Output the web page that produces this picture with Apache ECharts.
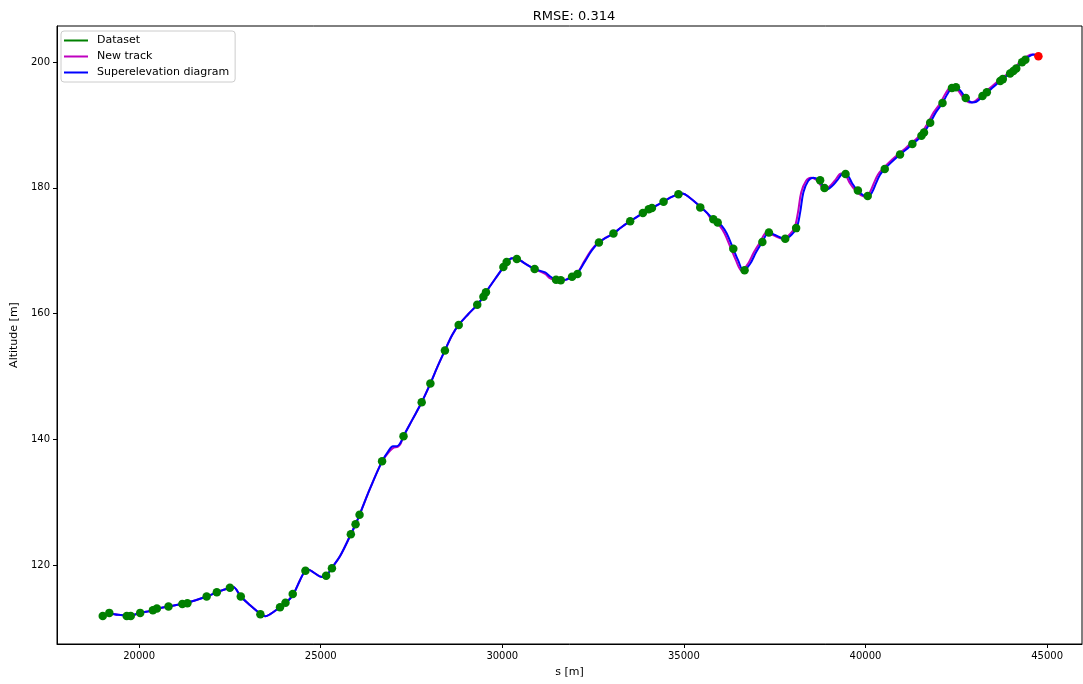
<!DOCTYPE html>
<html>
<head>
<meta charset="utf-8">
<script src="https://cdn.jsdelivr.net/npm/echarts@6/dist/echarts.min.js"></script>
<style>
html,body{margin:0;padding:0;background:#fff;}
#chart{width:1083px;height:684px;}
</style>
</head>
<body>
<div id="chart"></div>
<script>
// ---- tick labels ----
const xTicks = [20000, 25000, 30000, 35000, 40000, 45000];
const yTicks = [120, 140, 160, 180, 200];

// ---- Dataset (green points): [s, altitude] ----
const datasetPts = [
  [19000,111.9],[19180,112.4],[19660,111.9],[19770,111.9],[20030,112.4],[20380,112.8],[20490,113.1],
  [20810,113.4],[21190,113.8],[21330,113.95],[21860,115.0],[22140,115.7],[22500,116.4],[22800,115.0],
  [23340,112.2],[23880,113.3],[24030,114.0],[24230,115.4],[24580,119.1],[25150,118.3],[25310,119.5],
  [25830,124.9],[25960,126.5],[26070,128.0],[26690,136.5],[27280,140.5],[27780,145.9],[28020,148.9],
  [28420,154.15],[28800,158.2],[29310,161.4],[29480,162.7],[29550,163.4],[30030,167.4],[30120,168.2],
  [30400,168.7],[30890,167.1],[31480,165.4],[31610,165.3],[31920,165.85],[32070,166.3],[32660,171.3],
  [33060,172.75],[33520,174.7],[33870,176.0],[34030,176.6],[34120,176.8],[34440,177.8],[34850,179.0],
  [35450,176.9],[35810,175.0],[35930,174.5],[36360,170.3],[36670,166.9],[37160,171.4],[37340,172.9],
  [37790,171.9],[38090,173.6],[38750,181.2],[38870,180.0],[39450,182.2],[39790,179.6],[40060,178.7],
  [40530,183.0],[40950,185.3],[41290,187.0],[41540,188.3],[41610,188.8],[41780,190.35],[42120,193.5],
  [42380,195.9],[42490,196.0],[42760,194.3],[43220,194.6],[43340,195.2],[43710,197.0],[43780,197.3],
  [43980,198.2],[44070,198.6],[44150,199.0],[44310,200.0],[44400,200.4]
];
const endPoint = [[44760,200.95]];

// ---- Superelevation diagram (blue curve) ----
const superelevation = [
  [19000,111.9],[19180,112.3],[19420,112.1],[19670,112.0],[19780,112.0],[20030,112.4],[20390,112.8],[20500,113.1],
  [20800,113.4],[21180,113.8],[21320,114.0],[21870,115.0],[22150,115.7],[22500,116.4],[22590,116.5],[22800,115.0],
  [23060,113.6],[23350,112.2],[23470,111.85],[23610,112.2],[23880,113.3],[24030,113.9],[24240,115.3],[24430,117.6],
  [24570,119.1],[24650,119.3],[24790,118.9],[25040,118.1],[25150,118.25],[25310,119.6],[25530,121.4],[25830,124.9],
  [25960,126.5],[26070,128.0],[26360,132.2],[26690,136.5],[26860,138.1],[26990,138.9],[27100,138.9],[27190,139.4],
  [27280,140.5],[27520,143.1],[27780,145.9],[28020,148.9],[28210,151.5],[28420,154.15],[28620,156.6],[28800,158.2],
  [29060,159.9],[29310,161.4],[29480,162.7],[29550,163.4],[29800,165.5],[30030,167.4],[30120,168.2],[30270,168.8],
  [30400,168.75],[30630,167.95],[30890,167.1],[31180,166.55],[31320,165.9],[31480,165.4],[31620,165.3],[31760,165.4],
  [31910,165.9],[32050,166.3],[32280,168.35],[32470,170.1],[32660,171.3],[32830,172.0],[33060,172.75],[33270,173.7],
  [33520,174.7],[33870,176.0],[34030,176.6],[34120,176.8],[34440,177.8],[34620,178.45],[34850,179.0],[34950,179.1],
  [35170,178.4],[35450,177.0],[35640,176.0],[35810,175.0],[35940,174.5],[36050,173.9],[36180,172.75],[36360,170.3],
  [36490,168.5],[36640,166.85],[36820,167.9],[36990,169.8],[37160,171.4],[37340,172.9],[37510,172.5],[37790,171.9],
  [37920,172.3],[38100,173.6],[38200,176.1],[38290,179.3],[38420,181.1],[38560,181.6],[38700,181.3],[38800,180.6],
  [38930,179.75],[39080,180.3],[39220,181.2],[39390,182.3],[39520,181.9],[39630,180.75],[39780,179.6],[39930,178.85],
  [40070,178.6],[40180,179.3],[40290,180.75],[40400,182.1],[40530,183.0],[40680,183.9],[40950,185.3],[41120,186.1],
  [41290,187.0],[41450,187.75],[41540,188.3],[41610,188.8],[41780,190.35],[41940,192.05],[42120,193.5],[42250,194.9],
  [42380,195.9],[42490,196.0],[42600,195.55],[42760,194.3],[42930,193.6],[43050,193.7],[43220,194.5],[43340,195.15],
  [43510,196.0],[43750,197.2],[43980,198.2],[44150,199.0],[44310,200.0],[44400,200.4],[44530,201.0],[44640,201.2],
  [44760,200.95]
];

// ---- New track (magenta curve) ----
const newTrack = [
  [19000,111.9],[19180,112.3],[19420,112.1],[19670,112.0],[19780,112.0],[20030,112.4],[20390,112.8],[20500,113.1],
  [20800,113.4],[21180,113.8],[21320,114.0],[21870,115.0],[22150,115.7],[22500,116.4],[22590,116.5],[22800,115.0],
  [23060,113.6],[23350,112.2],[23470,111.85],[23610,112.2],[23880,113.3],[24030,113.9],[24240,115.3],[24430,117.6],
  [24570,119.1],[24650,119.3],[24790,118.9],[25040,118.1],[25150,118.25],[25310,119.6],[25530,121.4],[25830,124.9],
  [25960,126.5],[26070,128.0],[26360,132.2],[26690,136.5],[26880,138.0],[27010,138.7],[27120,138.8],[27200,139.3],
  [27280,140.5],[27520,143.1],[27780,145.9],[28020,148.9],[28210,151.5],[28420,154.15],[28620,156.6],[28800,158.2],
  [29060,159.9],[29310,161.4],[29480,162.7],[29550,163.4],[29800,165.5],[30030,167.4],[30120,168.2],[30270,168.8],
  [30400,168.75],[30630,167.95],[30890,167.1],[31180,166.3],[31320,165.6],[31480,165.3],[31620,165.3],[31760,165.4],
  [31910,165.9],[32050,166.3],[32260,168.35],[32450,170.1],[32640,171.3],[32830,172.0],[33060,172.75],[33270,173.7],
  [33520,174.7],[33870,176.0],[34030,176.6],[34120,176.8],[34440,177.8],[34620,178.45],[34850,179.0],[34950,179.1],
  [35170,178.4],[35450,177.0],[35640,176.0],[35750,175.0],[35880,174.5],[35990,173.9],[36120,172.75],[36300,170.3],
  [36430,168.5],[36590,166.85],[36760,167.9],[36930,169.8],[37100,171.4],[37280,172.9],[37450,172.5],[37730,171.9],
  [37860,172.3],[38040,173.6],[38140,176.1],[38230,179.3],[38360,181.1],[38500,181.6],[38640,181.3],[38740,180.6],
  [38870,179.75],[39020,180.3],[39160,181.2],[39330,182.3],[39460,181.9],[39570,180.75],[39720,179.6],[39870,178.85],
  [40010,178.6],[40120,179.3],[40230,180.75],[40340,182.1],[40470,183.0],[40620,183.9],[40890,185.3],[41060,186.1],
  [41230,187.0],[41390,187.75],[41480,188.3],[41550,188.8],[41720,190.35],[41880,192.05],[42060,193.5],[42190,194.9],
  [42320,195.9],[42430,196.0],[42540,195.55],[42700,194.3],[42870,193.6],[42990,193.7],[43160,194.5],[43280,195.15],
  [43450,196.0],[43690,197.2],[43920,198.2],[44090,199.0],[44250,200.0],[44340,200.4],[44470,201.0],[44600,201.2],
  [44760,200.95]
];

const FONT = 'DejaVu Sans';
const chart = echarts.init(document.getElementById('chart'), null, {renderer: 'canvas'});
chart.setOption({
  animation: false,
  backgroundColor: '#ffffff',
  title: {
    text: 'RMSE: 0.314',
    left: 569, top: 5, textAlign: 'center',
    textStyle: {fontFamily: FONT, fontSize: 13, fontWeight: 'normal', color: '#000'}
  },
  legend: {
    orient: 'vertical',
    left: 61, top: 31,
    padding: [3, 6, 3, 3],
    itemGap: 3,
    itemWidth: 24, itemHeight: 2,
    backgroundColor: 'rgba(255,255,255,0.8)',
    borderColor: '#cccccc', borderWidth: 1, borderRadius: 3,
    textStyle: {fontFamily: FONT, fontSize: 11, color: '#000', padding: [0,0,0,4], lineHeight: 13},
    data: [
      {name: 'Dataset', icon: 'rect'},
      {name: 'New track', icon: 'rect'},
      {name: 'Superelevation diagram', icon: 'rect'}
    ]
  },
  grid: {left: 57, right: 1, top: 26, bottom: 40, show: true, borderColor: '#000', borderWidth: 1},
  xAxis: {
    type: 'value', min: 17740, max: 45960,
    name: 's [m]', nameLocation: 'middle', nameGap: 23,
    nameTextStyle: {fontFamily: FONT, fontSize: 11, color: '#000'},
    axisLine: {show: true, onZero: false, lineStyle: {color: '#000', width: 1}},
    axisTick: {show: true, length: 4, lineStyle: {color: '#000'}, customValues: xTicks},
    axisLabel: {fontFamily: FONT, fontSize: 10, color: '#000', margin: 7, customValues: xTicks,
                formatter: function (v) { return String(v); }},
    splitLine: {show: false}
  },
  yAxis: {
    type: 'value', min: 107.45, max: 205.75,
    name: 'Altitude [m]', nameLocation: 'middle', nameGap: 30, nameRotate: 90,
    nameTextStyle: {fontFamily: FONT, fontSize: 11, color: '#000'},
    axisLine: {show: true, onZero: false, lineStyle: {color: '#000', width: 1}},
    axisTick: {show: true, length: 4, lineStyle: {color: '#000'}, customValues: yTicks},
    axisLabel: {fontFamily: FONT, fontSize: 10, color: '#000', margin: 7, customValues: yTicks,
                formatter: function (v) { return String(v); }},
    splitLine: {show: false}
  },
  series: [
    {
      name: 'Dataset', type: 'scatter', data: datasetPts, z: 5,
      symbol: 'circle', symbolSize: 8.5,
      itemStyle: {color: '#008000', opacity: 1}
    },
    {
      name: 'New track', type: 'line', data: newTrack, z: 3,
      smooth: 0.35, showSymbol: false, symbol: 'none',
      lineStyle: {color: '#bf00bf', width: 2},
      itemStyle: {color: '#bf00bf'}
    },
    {
      name: 'Superelevation diagram', type: 'line', data: superelevation, z: 4,
      smooth: 0.35, showSymbol: false, symbol: 'none',
      lineStyle: {color: '#0000ff', width: 2},
      itemStyle: {color: '#0000ff'}
    },
    {
      name: 'End', type: 'scatter', data: endPoint, z: 6,
      symbol: 'circle', symbolSize: 8.5,
      itemStyle: {color: '#ff0000', opacity: 1}
    }
  ]
});
</script>
</body>
</html>
